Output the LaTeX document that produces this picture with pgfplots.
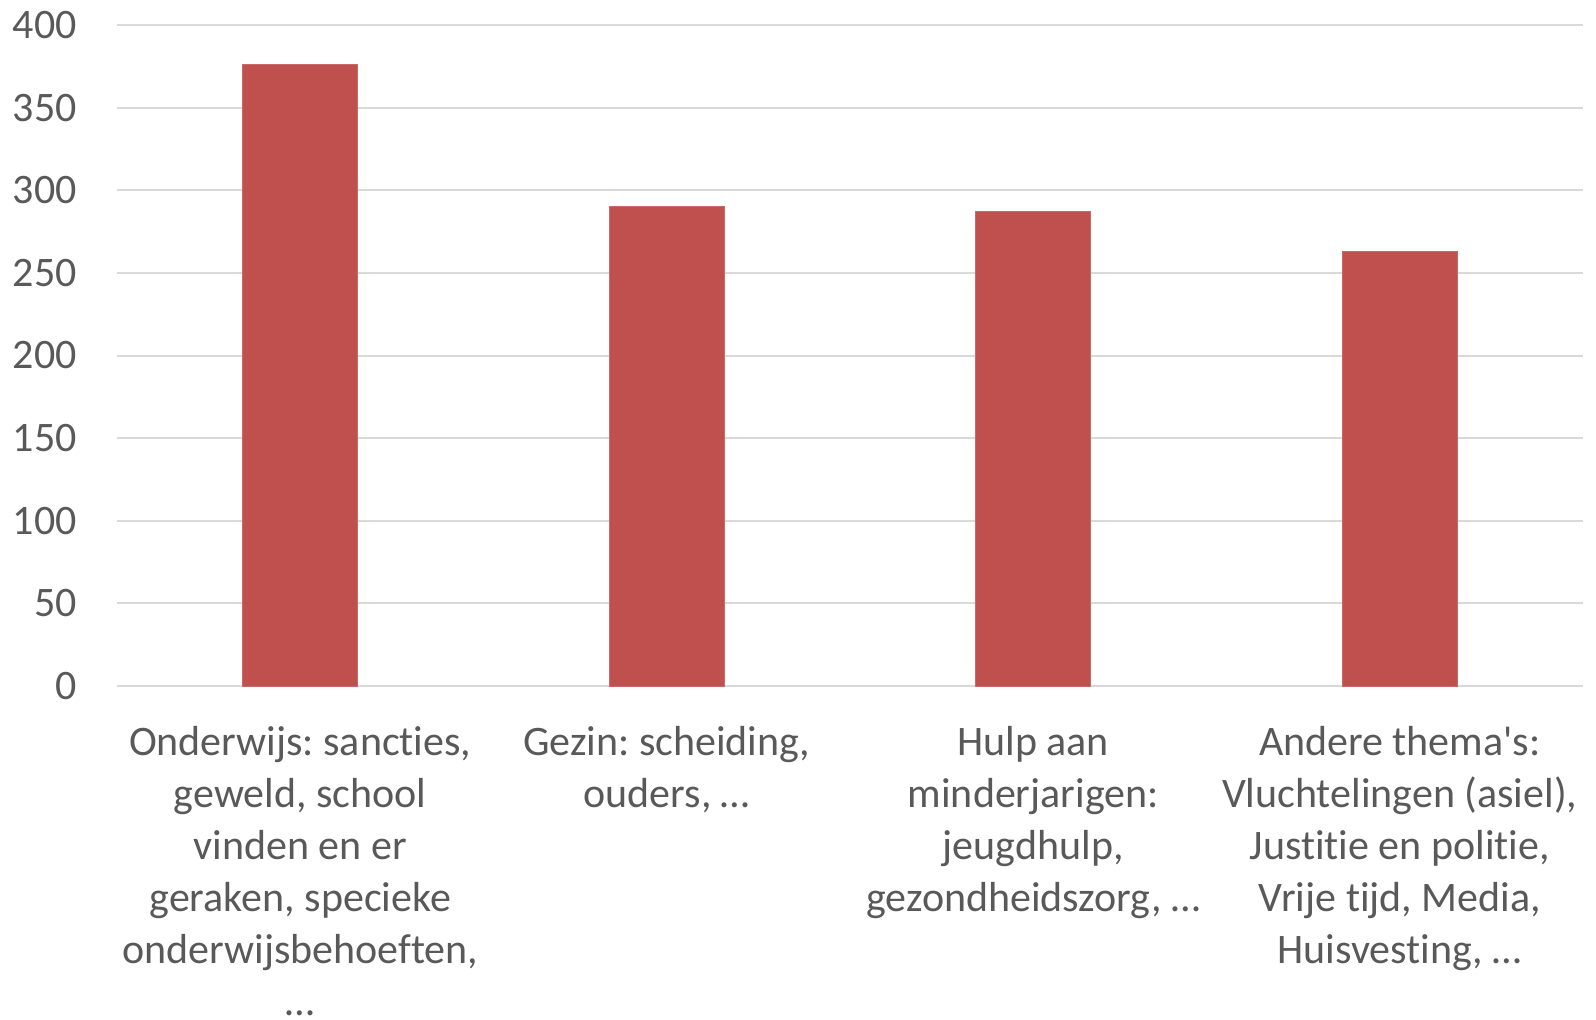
\documentclass[border=0pt]{standalone}
\usepackage{fontspec}
\setmainfont{Carlito}[Ligatures={NoCommon}]
\usepackage{pgfplots}
\pgfplotsset{compat=1.18}
\definecolor{barred}{HTML}{C0504D}
\definecolor{gridgray}{HTML}{D9D9D9}
\definecolor{txt}{HTML}{595959}
\frenchspacing
\begin{document}
\begin{tikzpicture}
\useasboundingbox (-58.5pt,-166.5pt) rectangle (739.5pt,343pt);
\begin{axis}[
 at={(0,0)}, anchor=south west,
 scale only axis, width=733pt, height=330.5pt,
 xmin=-0.5, xmax=3.5, ymin=0, ymax=400,
 ytick={0,50,...,400},
 xtick={0,1,2,3},
 xticklabels={{Onderwijs: sancties,\\geweld, school\\vinden en er\\geraken, specieke\\onderwijsbehoeften,\\…},
   {Gezin: scheiding,\\ouders, …},
   {Hulp aan\\minderjarigen:\\jeugdhulp,\\gezondheidszorg, …},
   {Andere thema\textquotesingle s:\\Vluchtelingen (asiel),\\Justitie en politie,\\Vrije tijd, Media,\\Huisvesting, …}},
 ymajorgrids, grid style={gridgray, line width=1pt},
 axis line style={draw=none},
 major tick length=0pt,
 tick label style={font=\fontsize{21}{26}\selectfont\frenchspacing, text=txt},
 /pgf/number format/assume math mode=true,
 yticklabel style={anchor=east, inner sep=0pt, xshift=-20pt},
 xticklabel style={align=center, anchor=north, inner sep=0pt, yshift=-20pt},
 ybar, bar width=57.5pt,
]
\addplot[fill=barred, draw=barred!85!white] coordinates {(0,376) (1,290) (2,287) (3,263)};
\end{axis}
\end{tikzpicture}
\end{document}
